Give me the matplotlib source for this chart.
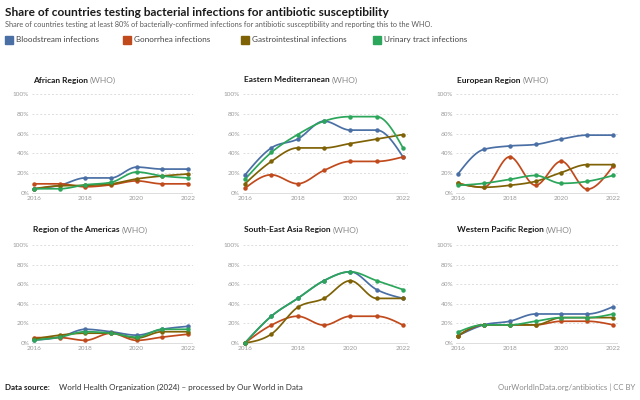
import numpy as np
import matplotlib
matplotlib.use("Agg")
import matplotlib.pyplot as plt

plt.rcParams['font.family'] = ['Lato', 'DejaVu Sans']

years = [2016, 2017, 2018, 2019, 2020, 2021, 2022]
series_names = ["Bloodstream infections", "Gonorrhea infections",
                "Gastrointestinal infections", "Urinary tract infections"]
colors = ["#4a6fa5", "#c14a1c", "#7f6206", "#2ba65a"]

regions = ["African Region", "Eastern Mediterranean", "European Region",
           "Region of the Americas", "South-East Asia Region", "Western Pacific Region"]

# values in %, one list per series: blood, gonorrhea, gastro, urinary
african = [
    [4, 7.5, 15, 15, 26, 24, 24],
    [9, 9, 6, 8, 12, 9, 9],
    [4, 7, 7.5, 9, 14, 17, 19],
    [4, 4, 8, 10.5, 21, 17, 15],
]
eastern_med = [
    [18, 45.5, 54.5, 72.7, 63.6, 63.6, 36.4],
    [4.5, 18.2, 9.1, 22.7, 31.8, 31.8, 36.4],
    [9.1, 31.8, 45.5, 45.5, 50, 54.5, 59.1],
    [13.6, 40.9, 59.1, 72.7, 77.3, 77.3, 45.5],
]
european = [
    [19, 44, 47.5, 49, 54.5, 58.5, 58.5],
    [9.5, 5.5, 36.5, 7.5, 32, 3.5, 27],
    [9.5, 5.5, 7.5, 11.5, 20.5, 28.5, 28.5],
    [7.5, 9.5, 13.5, 17.5, 9.5, 11.5, 17.5],
]
americas = [
    [3, 6, 14, 11.5, 8, 14, 17],
    [5.5, 5.5, 2.7, 10, 2.7, 6, 9],
    [4, 8, 10, 10, 5, 11.5, 11.5],
    [3, 6, 11.5, 10, 6, 14, 14],
]
se_asia = [
    [0, 27.3, 45.5, 63.6, 72.7, 54.5, 45.5],
    [0, 18.2, 27.3, 18.2, 27.3, 27.3, 18.2],
    [0, 9.1, 36.4, 45.5, 63.6, 45.5, 45.5],
    [0, 27.3, 45.5, 63.6, 72.7, 63.6, 54.5],
]
w_pacific = [
    [7.4, 18.5, 22.2, 29.6, 29.6, 29.6, 37],
    [7.4, 18.5, 18.5, 18.5, 22.2, 22.2, 18.5],
    [7.4, 18.5, 18.5, 18.5, 25.9, 25.9, 25.9],
    [11.1, 18.5, 18.5, 22.2, 25.9, 25.9, 29.6],
]
region_values = [african, eastern_med, european, americas, se_asia, w_pacific]


def monotone_curve(x, y, n=20):
    # d3 curveMonotoneX style interpolation
    x = np.asarray(x, float)
    y = np.asarray(y, float)
    h = np.diff(x)
    s = np.diff(y) / h
    m = np.zeros_like(y)
    for i in range(1, len(y) - 1):
        p = (s[i - 1] * h[i] + s[i] * h[i - 1]) / (h[i - 1] + h[i])
        m[i] = (np.sign(s[i - 1]) + np.sign(s[i])) * min(abs(s[i - 1]), abs(s[i]), 0.5 * abs(p))
    m[0] = (3 * s[0] - m[1]) / 2 if len(y) > 2 else s[0]
    m[-1] = (3 * s[-1] - m[-2]) / 2 if len(y) > 2 else s[-1]
    xs, ys = [], []
    for i in range(len(h)):
        t = np.linspace(0, 1, n, endpoint=(i == len(h) - 1))
        h00 = 2 * t**3 - 3 * t**2 + 1
        h10 = t**3 - 2 * t**2 + t
        h01 = -2 * t**3 + 3 * t**2
        h11 = t**3 - t**2
        xs.append(x[i] + t * h[i])
        ys.append(h00 * y[i] + h10 * h[i] * m[i] + h01 * y[i + 1] + h11 * h[i] * m[i + 1])
    return np.concatenate(xs), np.concatenate(ys)


W, H = 640, 400
fig = plt.figure(figsize=(6.4, 4.0), dpi=100)

# title, subtitle
fig.text(5 / W, 1 - 13 / H, "Share of countries testing bacterial infections for antibiotic susceptibility",
         fontsize=8.6, fontweight='bold', color='#1a1a1a', va='center', ha='left')
fig.text(5 / W, 1 - 24 / H,
         "Share of countries testing at least 80% of bacterially-confirmed infections for antibiotic susceptibility and reporting this to the WHO.",
         fontsize=5.35, color='#5b5b5b', va='center', ha='left')

# legend
leg_x = [5, 123, 241, 373]
for lx, name, c in zip(leg_x, series_names, colors):
    fig.patches.append(matplotlib.patches.Rectangle((lx / W, 1 - 44 / H), 8 / W, 8 / H,
                                                    transform=fig.transFigure, color=c))
    fig.text((lx + 11) / W, 1 - 39.5 / H, name, fontsize=5.9, color='#444444', va='center', ha='left')

col_x = [(34, 188), (245, 403), (458, 613)]
row_y = [(192.7, 94.3), (343, 245)]

for k, (reg, vals) in enumerate(zip(regions, region_values)):
    r, c = divmod(k, 3)
    x0, x1 = col_x[c]
    y0, y1 = row_y[r]
    ppy = (x1 - x0) / 6.0
    ppv = (y0 - y1) / 100.0
    left = x0 - 0.08 * ppy
    right = x1 + 0.2 * ppy
    bottom = y0 + 1 * ppv
    top = y1 - 2 * ppv
    ax = fig.add_axes([left / W, 1 - bottom / H, (right - left) / W, (bottom - top) / H])
    ax.set_xlim(2016 - 0.08, 2022.2)
    ax.set_ylim(-1, 102)
    for g in range(0, 101, 20):
        ax.axhline(g, color='#dddddd', lw=0.7, ls=(0, (2, 2)) if g > 0 else '-', zorder=0)
    for ser, col in zip(vals, colors):
        xs, ys = monotone_curve(years, ser)
        ax.plot(xs, ys, color=col, lw=1.25, solid_capstyle='round', zorder=2, clip_on=False)
        ax.plot(years, ser, 'o', color=col, ms=2.2, zorder=3, clip_on=False)
    for sp in ax.spines.values():
        sp.set_visible(False)
    ax.set_yticks(range(0, 101, 20))
    ax.set_yticklabels([f"{v}%" for v in range(0, 101, 20)])
    ax.set_xticks([2016, 2018, 2020, 2022])
    ax.tick_params(length=0, labelsize=4.6, labelcolor='#9a9a9a', pad=2)
    ax.tick_params(axis='x', pad=1.5)
    ax.patch.set_visible(False)
    ty = 1 - (80 if r == 0 else 230) / H
    t1 = fig.text(x0 / W - 1 / W, ty, reg, fontsize=6.0, fontweight='bold', color='#1a1a1a',
                  va='center', ha='left')
    fig.canvas.draw()
    bb = t1.get_window_extent()
    fig.text(bb.x1 / W + 2 / W, ty, "(WHO)", fontsize=6.0, color='#8a8a8a', va='center', ha='left')

# footer
f1 = fig.text(5 / W, 1 - 387 / H, "Data source:", fontsize=5.8, fontweight='bold', color='#1a1a1a',
              va='center', ha='left')
fig.canvas.draw()
bb = f1.get_window_extent()
fig.text(bb.x1 / W + 9 / W, 1 - 387 / H, "World Health Organization (2024) – processed by Our World in Data",
         fontsize=5.8, color='#333333', va='center', ha='left')
fig.text(635 / W, 1 - 387 / H, "OurWorldInData.org/antibiotics | CC BY", fontsize=5.6, color='#8a8a8a',
         va='center', ha='right')

fig.savefig("out.png", dpi=100)
